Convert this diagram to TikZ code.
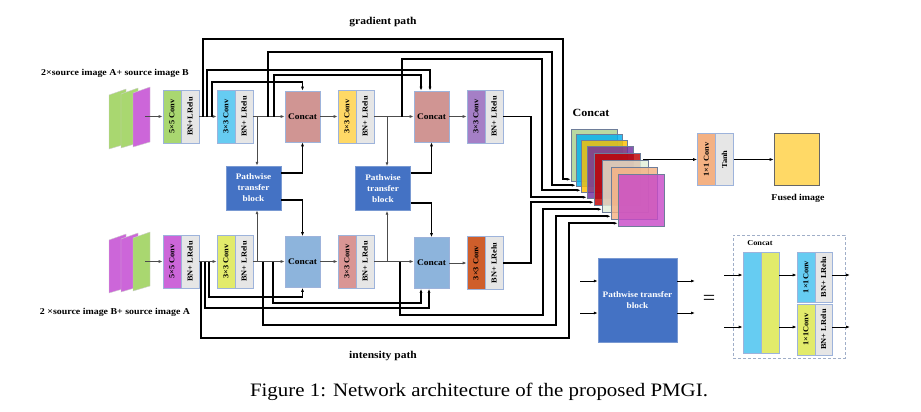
\documentclass[tikz,border=0pt]{standalone}
\usepackage{fontspec}
\setmainfont[FakeStretch=1.1]{Liberation Serif}
\usetikzlibrary{arrows.meta,calc}
\definecolor{cgreen}{HTML}{A9D770}
\definecolor{cmag}{HTML}{CC66D9}
\definecolor{cgray}{HTML}{E6E6E6}
\definecolor{cborder}{HTML}{9DB3DB}
\definecolor{ccyan}{HTML}{66CCF2}
\definecolor{crose}{HTML}{D09593}
\definecolor{cyel}{HTML}{FFD966}
\definecolor{cpurp}{HTML}{A57FC6}
\definecolor{clime}{HTML}{E2EB6B}
\definecolor{cblue}{HTML}{8DB4DC}
\definecolor{cpink}{HTML}{D99594}
\definecolor{corange}{HTML}{CF5E2B}
\definecolor{csalmon}{HTML}{F4B183}
\definecolor{cpath}{HTML}{4472C4}
\definecolor{cdash}{HTML}{A0AEC8}
\definecolor{sA}{HTML}{A9D18E}
\definecolor{sB}{HTML}{00B0F0}
\definecolor{sC}{HTML}{FFC000}
\definecolor{sD}{HTML}{7030A0}
\definecolor{sE}{HTML}{C00000}
\definecolor{sF}{HTML}{E2EFD9}
\definecolor{sG}{HTML}{F4B183}
\definecolor{sH}{HTML}{C84AC8}
\begin{document}
\begin{tikzpicture}[x=1pt,y=-1pt,
  blk/.style={draw=cborder, line width=0.6pt, minimum width=18pt, minimum height=53pt, inner sep=0pt, font=\fontsize{7.6}{8}\selectfont\bfseries},
  cat/.style={draw=cborder, line width=0.6pt, minimum width=35pt, minimum height=51pt, inner sep=0pt, font=\fontsize{8.6}{9}\selectfont\bfseries},
  ptb/.style={draw=cborder!60!cpath, fill=cpath, text=white, minimum width=55pt, minimum height=44pt, inner sep=0pt, align=center, font=\fontsize{8.4}{11}\selectfont\bfseries},
  mainln/.style={draw=black!70, line width=0.9pt},
  route/.style={draw=black, line width=1.7pt},
  arr/.style={-{Latex[length=4pt,width=3pt]}},
  thinarr/.style={draw=black, line width=0.8pt, -{Latex[length=4pt,width=3pt]}},
  sheet/.style={draw=gray!40, line width=0.4pt},
  stk/.style={draw=cborder!70!black, line width=0.5pt, fill opacity=0.82, minimum width=46pt, minimum height=52pt, inner sep=0pt},
  lbl/.style={font=\fontsize{10.5}{12}\selectfont\bfseries, inner sep=0pt}
]
\useasboundingbox (0,0) rectangle (921,412);

% input sheets
\filldraw[sheet, fill=cgreen] (109,95) -- (126,89) -- (126,144) -- (109,149) -- cycle;
\filldraw[sheet, fill=cgreen] (121,94) -- (138,88) -- (138,143) -- (121,148) -- cycle;
\filldraw[sheet, fill=cmag] (133,93) -- (150,87) -- (150,142) -- (133,147) -- cycle;
\filldraw[sheet, fill=cmag] (109,240) -- (126,234) -- (126,288) -- (109,293) -- cycle;
\filldraw[sheet, fill=cmag] (121,239) -- (138,233) -- (138,287) -- (121,292) -- cycle;
\filldraw[sheet, fill=cgreen] (133,238) -- (150,232) -- (150,286) -- (133,291) -- cycle;
\coordinate (tin) at (145,116.5);
\coordinate (bin) at (145,261.5);

% labels
\node[lbl, font=\fontsize{9}{10}\selectfont\bfseries] (la) at (115,73) {2×source image A+ source image B};
\node[lbl, font=\fontsize{9}{10}\selectfont\bfseries] (lb) at (115,312) {2 ×source image B+ source image A};
\node[lbl] (gp) at (383,22) {gradient path};
\node[lbl] (ip) at (383,356) {intensity path};

% top row
\node[blk, fill=cgreen] (t5a) at (172,116.5) {\rotatebox{90}{5×5 Conv}};
\node[blk, fill=cgray] (t5b) at (190,116.5) {\rotatebox{90}{BN+LRelu}};
\node[blk, fill=ccyan] (t3a) at (226,116.5) {\rotatebox{90}{3×3 Conv}};
\node[blk, fill=cgray] (t3b) at (244,116.5) {\rotatebox{90}{BN+ LRelu}};
\node[cat, fill=crose] (tc1) at (302.5,116.5) {Concat};
\node[blk, fill=cyel] (tya) at (347,116.5) {\rotatebox{90}{3×3 Conv}};
\node[blk, fill=cgray] (tyb) at (365,116.5) {\rotatebox{90}{BN+ LRelu}};
\node[cat, fill=crose] (tc2) at (431.5,116.5) {Concat};
\node[blk, fill=cpurp] (tpa) at (476,116.5) {\rotatebox{90}{3×3 Conv}};
\node[blk, fill=cgray] (tpb) at (494,116.5) {\rotatebox{90}{BN+ LRelu}};

% bottom row
\node[blk, fill=cmag] (b5a) at (172,261.5) {\rotatebox{90}{5×5 Conv}};
\node[blk, fill=cgray] (b5b) at (190,261.5) {\rotatebox{90}{BN+ LRelu}};
\node[blk, fill=clime] (b3a) at (226,261.5) {\rotatebox{90}{3×3 Conv}};
\node[blk, fill=cgray] (b3b) at (244,261.5) {\rotatebox{90}{BN+ LRelu}};
\node[cat, fill=cblue] (bc1) at (302.5,262) {Concat};
\node[blk, fill=cpink] (bka) at (347,261.5) {\rotatebox{90}{3×3 Conv}};
\node[blk, fill=cgray] (bkb) at (365,261.5) {\rotatebox{90}{BN+ LRelu}};
\node[cat, fill=cblue] (bc2) at (431.5,263) {Concat};
\node[blk, fill=corange] (boa) at (476,263) {\rotatebox{90}{3×3 Conv}};
\node[blk, fill=cgray] (bob) at (494,263) {\rotatebox{90}{BN+ LRelu}};

% pathwise blocks
\node[ptb] (pt1) at (253.5,188) {Pathwise\\transfer\\block};
\node[ptb] (pt2) at (383,188.5) {Pathwise\\transfer\\block};

% main flow lines
\draw[mainln,arr] (tin) -- (t5a.west);
\draw[mainln,arr] (bin) -- (b5a.west);
\draw[mainln,arr] (t5b.east) -- (t3a.west);
\draw[mainln,arr] (t3b.east) -- (tc1.west);
\draw[mainln,arr] (tc1.east) -- (tya.west);
\draw[mainln,arr] (tyb.east) -- (tc2.west);
\draw[mainln,arr] (tc2.east) -- (tpa.west);
\draw[mainln,arr] (b5b.east) -- (b3a.west);
\draw[mainln,arr] (b3b.east) -- (bc1.west |- b3b.east);
\draw[mainln,arr] (bc1.east |- bka.west) -- (bka.west);
\draw[mainln,arr] (bkb.east) -- (bc2.west |- bkb.east);
\draw[mainln,arr] (bc2.east) -- (boa.west);

% branch points
\coordinate (tb1) at (203,116.5);
\coordinate (tb2) at (207,116.5);
\coordinate (tb3) at (212,116.5);
\coordinate (tj1) at (257,116.5);
\coordinate (tb4) at (268,116.5);
\coordinate (tb5) at (274,116.5);
\coordinate (tj2) at (387,116.5);
\coordinate (tb6) at (402,116.5);
\coordinate (bb1) at (201,261.5);
\coordinate (bb2) at (205,261.5);
\coordinate (bb3) at (209,261.5);
\coordinate (bj1) at (257,261.5);
\coordinate (bb4) at (263,261.5);
\coordinate (bb5) at (273,261.5);
\coordinate (bj2) at (387,261.5);
\coordinate (bb6) at (400,261.5);

% pathwise connections
\draw[mainln,arr] (tj1) -- (tj1 |- pt1.north);
\draw[mainln,arr] (bj1) -- (bj1 |- pt1.south);
\draw[mainln,arr] (tj2) -- (tj2 |- pt2.north);
\draw[mainln,arr] (bj2) -- (bj2 |- pt2.south);
\draw[route,arr] ([yshift=-7pt]pt1.north east) -| (tc1.south);
\draw[route,arr] ([yshift=10pt]pt1.south east) -| (bc1.north);
\draw[route,arr] ([yshift=-7pt]pt2.north east) -| (tc2.south);
\draw[route,arr] ([yshift=8pt]pt2.south east) -| (bc2.north);

% concat stack
\node[stk, fill=sA] (s1) at (594,155) {};
\node[stk, fill=sB] (s2) at (599,160) {};
\node[stk, fill=sC] (s3) at (604,166) {};
\node[stk, fill=sD] (s4) at (610,172) {};
\node[stk, fill=sE] (s5) at (617,179) {};
\node[stk, fill=sF] (s6) at (625,186) {};
\node[stk, fill=sG] (s7) at (634,193) {};
\node[stk, fill=sH] (s8) at (641,200) {};
\node[lbl, font=\fontsize{11}{12}\selectfont\bfseries] (sc) at (591,113) {Concat};

% skip routes (top)
\draw[route,arr] (tb1) |- (563,39) |- ([yshift=2pt]s1.south west);
\draw[route,arr] (tb2) |- (430,70) -- ([xshift=-1.5pt]tc2.north);
\draw[route,arr] (tb3) |- (302.5,82) -- (tc1.north);
\draw[route,arr] (tb4) |- (552,52) |- ([yshift=1pt]s2.south west);
\draw[route,arr] (tb5) |- (421,75) -- ([xshift=-10.5pt]tc2.north);
\draw[route,arr] (tb6) |- (542,59) |- ([yshift=2pt]s3.south west);
\draw[route,arr] (tpb.east) -- (531,116.5) |- ([yshift=1pt]s4.south west);
% skip routes (bottom)
\draw[route,arr] (bb1) |- (569,338) |- ([yshift=3pt]s8.south west);
\draw[route,arr] (bb2) |- (429,308) -- ([xshift=-2.5pt]bc2.south);
\draw[route,arr] (bb3) |- (302.5,297) -- (bc1.south);
\draw[route,arr] (bb4) |- (556,325) |- ([yshift=3pt]s7.south west);
\draw[route,arr] (bb5) |- (421,303) -- ([xshift=-10.5pt]bc2.south);
\draw[route,arr] (bb6) |- (543,315) |- ([yshift=3pt]s6.south west);
\draw[route,arr] (bob.east) -- (531,263) |- ([yshift=3pt]s5.south west);

% output
\node[blk, fill=csalmon, minimum height=52pt] (fa) at (706.5,159.5) {\rotatebox{90}{1×1 Conv}};
\node[blk, fill=cgray, minimum height=52pt] (fb) at (724.5,159.5) {\rotatebox{90}{Tanh}};
\node[draw=gray!80!black, line width=0.6pt, fill=cyel, minimum width=45pt, minimum height=52pt] (fz) at (796.5,159.5) {};
\node[lbl, font=\fontsize{9}{10}\selectfont\bfseries] (fi) at (798,198) {Fused image};
\coordinate (sout) at (643,159.5);
\draw[thinarr] (sout) -- (fa.west);
\draw[thinarr] (fb.east) -- (fz.west);

% legend
\node[ptb, minimum width=79pt, minimum height=84pt] (lp) at (637.5,300) {Pathwise transfer\\block};
\coordinate (li1) at (580,281);
\coordinate (li2) at (580,313);
\coordinate (lo1) at (695,281);
\coordinate (lo2) at (695,313);
\draw[thinarr] (li1) -- (li1 -| lp.west);
\draw[thinarr] (li2) -- (li2 -| lp.west);
\draw[thinarr] (lp.east |- lo1) -- (lo1);
\draw[thinarr] (lp.east |- lo2) -- (lo2);
\node[font=\fontsize{20}{20}\selectfont, inner sep=0pt] (eq) at (709,300) {=};
\node[draw=cdash, line width=0.7pt, dash pattern=on 3pt off 2pt, minimum width=112pt, minimum height=123pt, inner sep=0pt] (lbox) at (789,296.5) {};
\node[lbl, font=\fontsize{7.5}{8}\selectfont\bfseries] (lcat) at (760,243) {Concat};
\node[draw=cborder, line width=0.6pt, fill=ccyan, minimum width=18pt, minimum height=101pt, inner sep=0pt] (lc) at (752,302.5) {};
\node[draw=cborder, line width=0.6pt, fill=clime, minimum width=18pt, minimum height=101pt, inner sep=0pt] (ly) at (770,302.5) {};
\node[blk, fill=ccyan, minimum height=50pt] (lt1a) at (806,277) {\rotatebox{90}{1×1Conv}};
\node[blk, fill=cgray, minimum height=50pt, minimum width=17pt] (lt1b) at (823.5,277) {\rotatebox{90}{BN+ LRelu}};
\node[blk, fill=clime, minimum height=51pt] (lb1a) at (806,329.5) {\rotatebox{90}{1×1Conv}};
\node[blk, fill=cgray, minimum height=51pt, minimum width=17pt] (lb1b) at (823.5,329.5) {\rotatebox{90}{BN+ LRelu}};
\coordinate (lin1) at (724,275);
\coordinate (lin2) at (724,327);
\coordinate (lout1) at (850,275);
\coordinate (lout2) at (850,327);
\draw[thinarr] (lin1) -- (lin1 -| lc.west);
\draw[thinarr] (lin2) -- (lin2 -| lc.west);
\draw[thinarr] (ly.east |- lin1) -- (lin1 -| lt1a.west);
\draw[thinarr] (ly.east |- lin2) -- (lin2 -| lb1a.west);
\draw[thinarr] (lt1b.east |- lout1) -- (lout1);
\draw[thinarr] (lb1b.east |- lout2) -- (lout2);

% caption
\node[font=\fontsize{19}{21}\selectfont, inner sep=0pt] (cap) at (479,392) {Figure 1: Network architecture of the proposed PMGI.};
\end{tikzpicture}
\end{document}
